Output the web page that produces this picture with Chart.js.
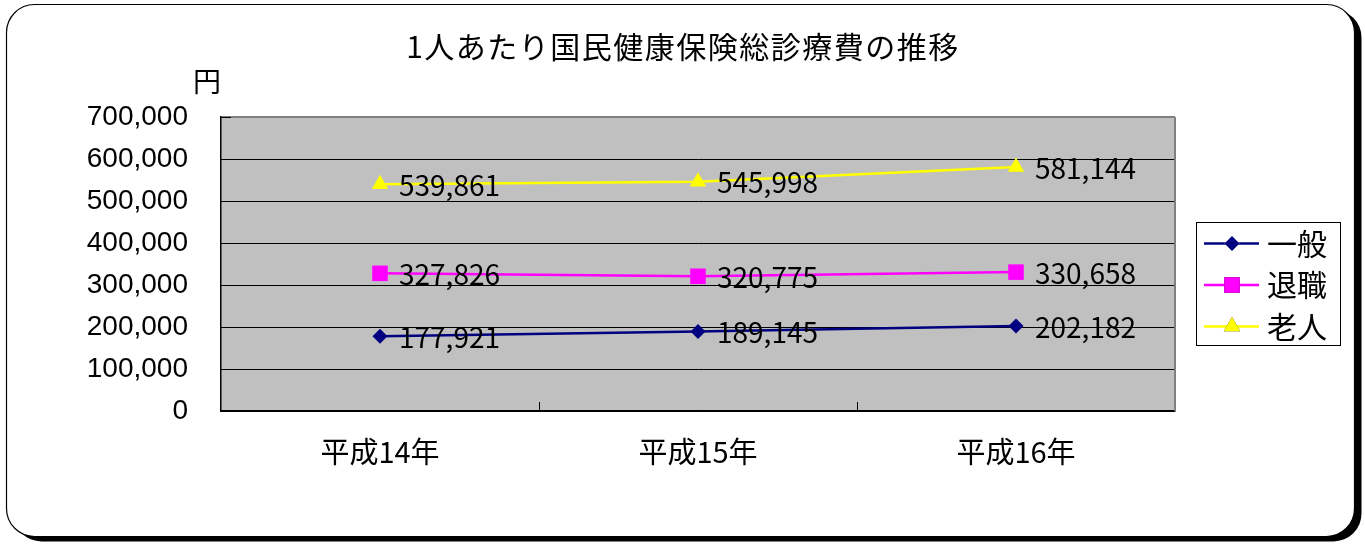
<!DOCTYPE html>
<html lang="ja">
<head>
<meta charset="utf-8">
<title>1人あたり国民健康保険総診療費の推移</title>
<script src="https://cdn.jsdelivr.net/npm/chart.js@4.4.1/dist/chart.umd.min.js"></script>
<style>
  html, body { margin: 0; padding: 0; background: #fff; }
  canvas { display: block; }
</style>
</head>
<body>
<canvas id="chart" width="1365" height="544"></canvas>
<script>
// 年度ごとの1人あたり総診療費（円）
const chartTitle = '1人あたり国民健康保険総診療費の推移';
const years = ['平成14年', '平成15年', '平成16年'];
const ippan = [177921, 189145, 202182];      // 一般
const taishoku = [327826, 320775, 330658];   // 退職
const rojin = [539861, 545998, 581144];      // 老人
const seriesNames = ['一般', '退職', '老人'];
const yMin = 0;
const yMax = 700000;
const yStep = 100000;

const jpFont = '"Noto Sans CJK JP", "Noto Sans", sans-serif';
const numFont = '"Liberation Sans", Arial, sans-serif';
const plotGray = '#c0c0c0';
const edgeGray = '#808080';

function fmt(v) { return v.toLocaleString('en-US'); }

function roundRect(ctx, x, y, w, h, r) {
  ctx.beginPath();
  ctx.moveTo(x + r, y);
  ctx.lineTo(x + w - r, y);
  ctx.arcTo(x + w, y, x + w, y + r, r);
  ctx.lineTo(x + w, y + h - r);
  ctx.arcTo(x + w, y + h, x + w - r, y + h, r);
  ctx.lineTo(x + r, y + h);
  ctx.arcTo(x, y + h, x, y + h - r, r);
  ctx.lineTo(x, y + r);
  ctx.arcTo(x, y, x + r, y, r);
  ctx.closePath();
}

// frame of the whole sheet, title, plot background and the plot edges
const framePlugin = {
  id: 'frame',
  beforeDraw(chart) {
    const ctx = chart.ctx;
    const a = chart.chartArea;
    ctx.save();
    // drop shadow
    roundRect(ctx, 13.5, 9.5, 1348, 532, 28);
    ctx.fillStyle = '#000';
    ctx.fill();
    // sheet
    roundRect(ctx, 6.5, 4.5, 1348, 532, 28);
    ctx.fillStyle = '#fff';
    ctx.fill();
    ctx.lineWidth = 1.2;
    ctx.strokeStyle = '#000';
    ctx.stroke();
    // title, centred on the sheet
    ctx.fillStyle = '#000';
    ctx.font = '30px ' + jpFont;
    ctx.letterSpacing = '1.5px';
    ctx.textAlign = 'center';
    ctx.textBaseline = 'middle';
    ctx.fillText(chartTitle, 683, 47);
    ctx.letterSpacing = '0px';
    // plot background
    ctx.fillStyle = plotGray;
    ctx.fillRect(a.left, a.top, a.right - a.left, a.bottom - a.top);
    ctx.restore();
  },
  beforeDatasetsDraw(chart) {
    const ctx = chart.ctx;
    const a = chart.chartArea;
    const xs = chart.scales.x;
    const ys = chart.scales.y;
    ctx.save();
    // right edge
    ctx.strokeStyle = edgeGray;
    ctx.lineWidth = 2;
    ctx.beginPath();
    ctx.moveTo(a.right, a.top);
    ctx.lineTo(a.right, a.bottom);
    ctx.stroke();
    // inner tick marks on the category axis (between categories)
    ctx.strokeStyle = '#000';
    ctx.lineWidth = 1;
    ctx.beginPath();
    for (let i = 1; i < years.length; i++) {
      const x = Math.round((xs.getPixelForTick(i - 1) + xs.getPixelForTick(i)) / 2) + 0.5;
      ctx.moveTo(x, a.bottom);
      ctx.lineTo(x, a.bottom - 9);
    }
    // inner tick marks on the value axis
    ys.ticks.forEach((t, i) => {
      const y = Math.round(ys.getPixelForTick(i)) + 0.5;
      ctx.moveTo(a.left, y);
      ctx.lineTo(a.left + 10, y);
    });
    ctx.stroke();
    // unit label
    ctx.fillStyle = '#000';
    ctx.font = '28px ' + jpFont;
    ctx.textAlign = 'center';
    ctx.textBaseline = 'middle';
    ctx.fillText('円', 207, 81);
    ctx.restore();
  }
};

// value labels to the right of each point
const valueLabelPlugin = {
  id: 'valueLabels',
  afterDatasetsDraw(chart) {
    const ctx = chart.ctx;
    ctx.save();
    ctx.fillStyle = '#000';
    ctx.font = '28px ' + jpFont;
    ctx.textAlign = 'left';
    ctx.textBaseline = 'middle';
    chart.data.datasets.forEach((ds, di) => {
      const meta = chart.getDatasetMeta(di);
      meta.data.forEach((pt, i) => {
        ctx.fillText(fmt(ds.data[i]), pt.x + 19, pt.y + 1);
      });
    });
    ctx.restore();
  }
};

// boxed legend with line + marker samples
const legendBoxPlugin = {
  id: 'legendBox',
  afterDraw(chart) {
    const ctx = chart.ctx;
    const bx = 1196.5, by = 222.5, bw = 144, bh = 123;
    const rowH = 41.5;
    ctx.save();
    ctx.fillStyle = '#fff';
    ctx.fillRect(bx, by, bw, bh);
    ctx.strokeStyle = '#000';
    ctx.lineWidth = 1;
    ctx.strokeRect(bx, by, bw, bh);
    chart.data.datasets.forEach((ds, di) => {
      const cy = by + 21 + di * rowH;
      ctx.strokeStyle = ds.borderColor;
      ctx.lineWidth = 2.5;
      ctx.beginPath();
      ctx.moveTo(1204, cy);
      ctx.lineTo(1259, cy);
      ctx.stroke();
      Chart.helpers.drawPoint(ctx, {
        pointStyle: ds.pointStyle,
        radius: ds.pointRadius,
        borderWidth: 0,
        rotation: 0
      }, 1232, cy);
      ctx.fillStyle = ds.backgroundColor;
      ctx.fill();
      ctx.fillStyle = '#000';
      ctx.font = '30px ' + jpFont;
      ctx.textAlign = 'left';
      ctx.textBaseline = 'middle';
      ctx.fillText(ds.label, 1267, cy);
    });
    ctx.restore();
  }
};

const seriesStyle = [
  { color: '#000080', style: 'rectRot', radius: 7.5 },
  { color: '#ff00ff', style: 'rect', radius: 11 },
  { color: '#ffff00', style: 'triangle', radius: 9.5 }
];
const seriesData = [ippan, taishoku, rojin];

new Chart(document.getElementById('chart'), {
  type: 'line',
  data: {
    labels: years,
    datasets: seriesData.map((d, i) => ({
      label: seriesNames[i],
      data: d,
      borderColor: seriesStyle[i].color,
      backgroundColor: seriesStyle[i].color,
      pointBackgroundColor: seriesStyle[i].color,
      pointBorderColor: seriesStyle[i].color,
      pointBorderWidth: 0,
      pointStyle: seriesStyle[i].style,
      pointRadius: seriesStyle[i].radius,
      borderWidth: 2.5,
      tension: 0,
      fill: false
    }))
  },
  options: {
    responsive: false,
    animation: false,
    events: [],
    layout: { padding: { left: 0, right: 190, top: 117, bottom: 0 } },
    plugins: {
      legend: { display: false },
      tooltip: { enabled: false },
      title: { display: false }
    },
    scales: {
      x: {
        type: 'category',
        offset: true,
        grid: { display: false, drawTicks: false },
        border: { display: true, color: '#000', width: 1.5 },
        ticks: {
          color: '#000',
          font: { family: jpFont, size: 29 },
          padding: 24,
          maxRotation: 0
        },
        afterFit(s) { s.height = 133; }
      },
      y: {
        min: yMin,
        max: yMax,
        grid: {
          drawTicks: false,
          color: (c) => (c.tick && c.tick.value === yMax ? edgeGray : '#000'),
          lineWidth: (c) => (c.tick && c.tick.value === yMax ? 2 : 1)
        },
        border: { display: true, color: '#000', width: 1.5 },
        ticks: {
          stepSize: yStep,
          color: '#000',
          font: { family: numFont, size: 28 },
          padding: 33,
          callback: (v) => fmt(v)
        },
        afterFit(s) { s.width = 221; }
      }
    }
  },
  plugins: [framePlugin, valueLabelPlugin, legendBoxPlugin]
});
</script>
</body>
</html>
